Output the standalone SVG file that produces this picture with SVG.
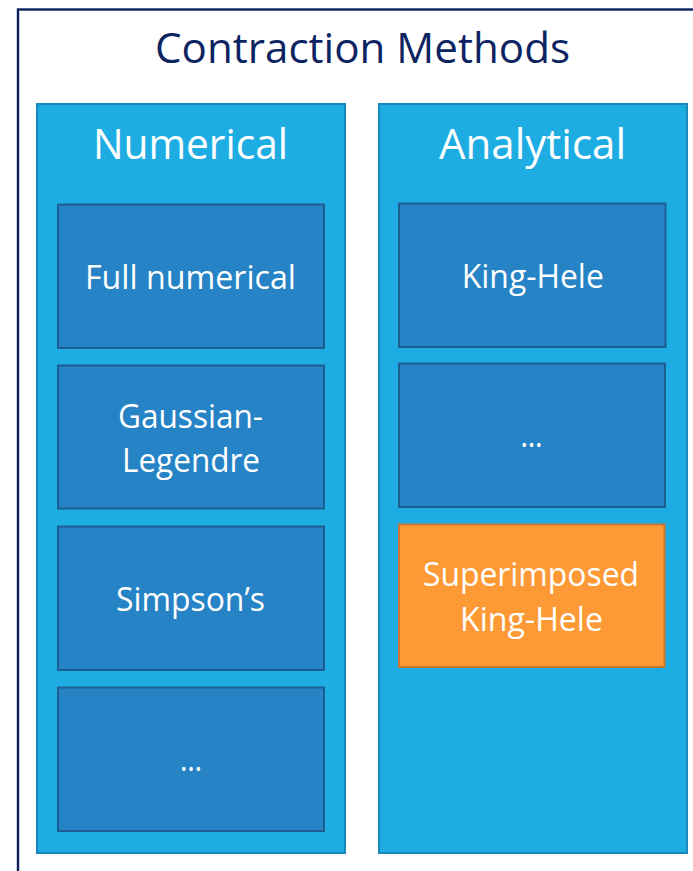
<svg xmlns="http://www.w3.org/2000/svg" width="693" height="871" viewBox="0 0 693 871">
  <style>
    text { font-family: "Open Sans", "Noto Sans", "Liberation Sans", sans-serif; fill: #ffffff; text-anchor: middle; }
    .title { fill: #0c2461; font-size: 42px; }
    .head { font-size: 42px; }
    .item { font-size: 32.5px; }
    .column { fill: #1eade3; stroke: #1a88b8; stroke-width: 2; }
    .box { fill: #2683c6; stroke: #1c5e92; stroke-width: 2; }
    .hot { fill: #fe9a35; stroke: #c8772c; stroke-width: 2; }
  </style>
  <rect width="693" height="871" fill="#ffffff"/>

  <!-- outer frame -->
  <g id="frame">
    <rect x="18" y="9.5" width="700" height="900" fill="#ffffff" stroke="#0c1f5c" stroke-width="2.4"/>
    <text class="title" x="362.5" y="63" textLength="415" lengthAdjust="spacingAndGlyphs">Contraction Methods</text>
  </g>

  <!-- numerical column -->
  <g id="numerical">
    <rect class="column" x="37" y="104" width="308" height="749"/>
    <text class="head" x="190.5" y="159" textLength="195" lengthAdjust="spacingAndGlyphs">Numerical</text>
  </g>
  <g id="full-numerical">
    <rect class="box" x="58" y="204.5" width="266" height="143.5"/>
    <text class="item" x="190.5" y="289.3" textLength="211" lengthAdjust="spacingAndGlyphs">Full numerical</text>
  </g>
  <g id="gaussian-legendre">
    <rect class="box" x="58" y="365.5" width="266" height="143"/>
    <text class="item" x="190.5" y="428" textLength="145" lengthAdjust="spacingAndGlyphs">Gaussian-</text>
    <text class="item" x="191" y="472" textLength="138" lengthAdjust="spacingAndGlyphs">Legendre</text>
  </g>
  <g id="simpsons">
    <rect class="box" x="58" y="526.5" width="266" height="143.5"/>
    <text class="item" x="190.5" y="611" textLength="149" lengthAdjust="spacingAndGlyphs">Simpson’s</text>
  </g>
  <g id="numerical-more">
    <rect class="box" x="58" y="687.5" width="266" height="143.5"/>
    <text class="item" x="191" y="770.5" textLength="22" lengthAdjust="spacingAndGlyphs">…</text>
  </g>

  <!-- analytical column -->
  <g id="analytical">
    <rect class="column" x="379" y="104" width="308" height="749"/>
    <text class="head" x="532.5" y="159" textLength="187" lengthAdjust="spacingAndGlyphs">Analytical</text>
  </g>
  <g id="king-hele">
    <rect class="box" x="399" y="203.5" width="266.5" height="143.5"/>
    <text class="item" x="532.8" y="288" textLength="142" lengthAdjust="spacingAndGlyphs">King-Hele</text>
  </g>
  <g id="analytical-more">
    <rect class="box" x="399" y="363.5" width="266" height="143.5"/>
    <text class="item" x="531.5" y="447.3" textLength="22" lengthAdjust="spacingAndGlyphs">…</text>
  </g>
  <g id="superimposed-king-hele">
    <rect class="hot" x="399" y="524.5" width="265.5" height="142.5"/>
    <text class="item" x="531" y="586" textLength="216" lengthAdjust="spacingAndGlyphs">Superimposed</text>
    <text class="item" x="531.5" y="630.7" textLength="143" lengthAdjust="spacingAndGlyphs">King-Hele</text>
  </g>

  <!-- no connectors in this layout -->
  <g id="connectors"/>
</svg>
